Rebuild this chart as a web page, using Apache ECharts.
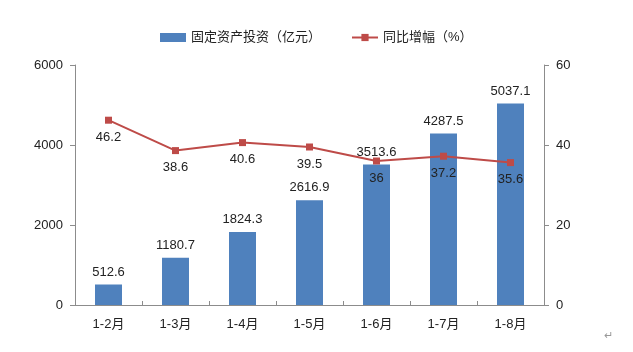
<!DOCTYPE html>
<html>
<head>
<meta charset="utf-8">
<script src="https://cdn.jsdelivr.net/npm/echarts@6/dist/echarts.min.js"></script>
<style>
html,body{margin:0;padding:0;background:#fff;}
#main{width:633px;height:352px;}
</style>
</head>
<body>
<div id="main"></div>
<script>
var months = ['1-2月','1-3月','1-4月','1-5月','1-6月','1-7月','1-8月'];
var investData = [512.6,1180.7,1824.3,2616.9,3513.6,4287.5,5037.1];
var growthData = [46.2,38.6,40.6,39.5,36,37.2,35.6];
var leftTicks = [0,2000,4000,6000];
var rightTicks = [0,20,40,60];

var fontFam = '"Liberation Sans","Noto Sans CJK SC",Arial,sans-serif';
var axisColor = '#8c8c8c';

var myChart = echarts.init(document.getElementById('main'));

var option = {
  animation:false,
  textStyle:{fontFamily:fontFam},
  legend:{
    top:26,
    left:155,
    itemGap:30,
    itemWidth:26,
    itemHeight:9,
    textStyle:{fontSize:13,color:'#222',fontFamily:fontFam},
    data:[
      {name:'固定资产投资（亿元）',icon:'rect'},
      {name:'同比增幅（%）'}
    ]
  },
  grid:{left:75,right:89,top:65,bottom:47},
  xAxis:{
    type:'category',
    data:months,
    axisLine:{lineStyle:{color:axisColor}},
    axisTick:{show:true,inside:true,length:4,lineStyle:{color:axisColor}},
    axisLabel:{color:'#222',fontSize:13,margin:13}
  },
  yAxis:[
    {
      type:'value',min:leftTicks[0],max:leftTicks[leftTicks.length-1],interval:2000,
      axisLine:{show:true,lineStyle:{color:axisColor}},
      axisTick:{show:true,length:5,lineStyle:{color:axisColor}},
      splitLine:{show:false},
      axisLabel:{color:'#222',fontSize:13,margin:12,formatter:function(v){return String(v);}}
    },
    {
      type:'value',min:rightTicks[0],max:rightTicks[rightTicks.length-1],interval:20,
      axisLine:{show:true,lineStyle:{color:axisColor}},
      axisTick:{show:true,length:5,lineStyle:{color:axisColor}},
      splitLine:{show:false},
      axisLabel:{color:'#222',fontSize:13,margin:12,formatter:function(v){return String(v);}}
    }
  ],
  series:[
    {
      name:'固定资产投资（亿元）',
      type:'bar',
      data:investData,
      barWidth:27,
      itemStyle:{color:'#4f81bd'},
      label:{show:true,position:'top',distance:6,color:'#222',fontSize:13}
    },
    {
      name:'同比增幅（%）',
      type:'line',
      yAxisIndex:1,
      data:growthData,
      symbol:'rect',
      symbolSize:7,
      lineStyle:{color:'#be4b48',width:2},
      itemStyle:{color:'#be4b48'},
      label:{show:true,position:'bottom',distance:7,color:'#222',fontSize:13}
    }
  ],
  graphic:[
    {type:'text',left:604,top:330,style:{text:'↵',fill:'#999',fontSize:11}}
  ]
};

myChart.setOption(option);
</script>
</body>
</html>
